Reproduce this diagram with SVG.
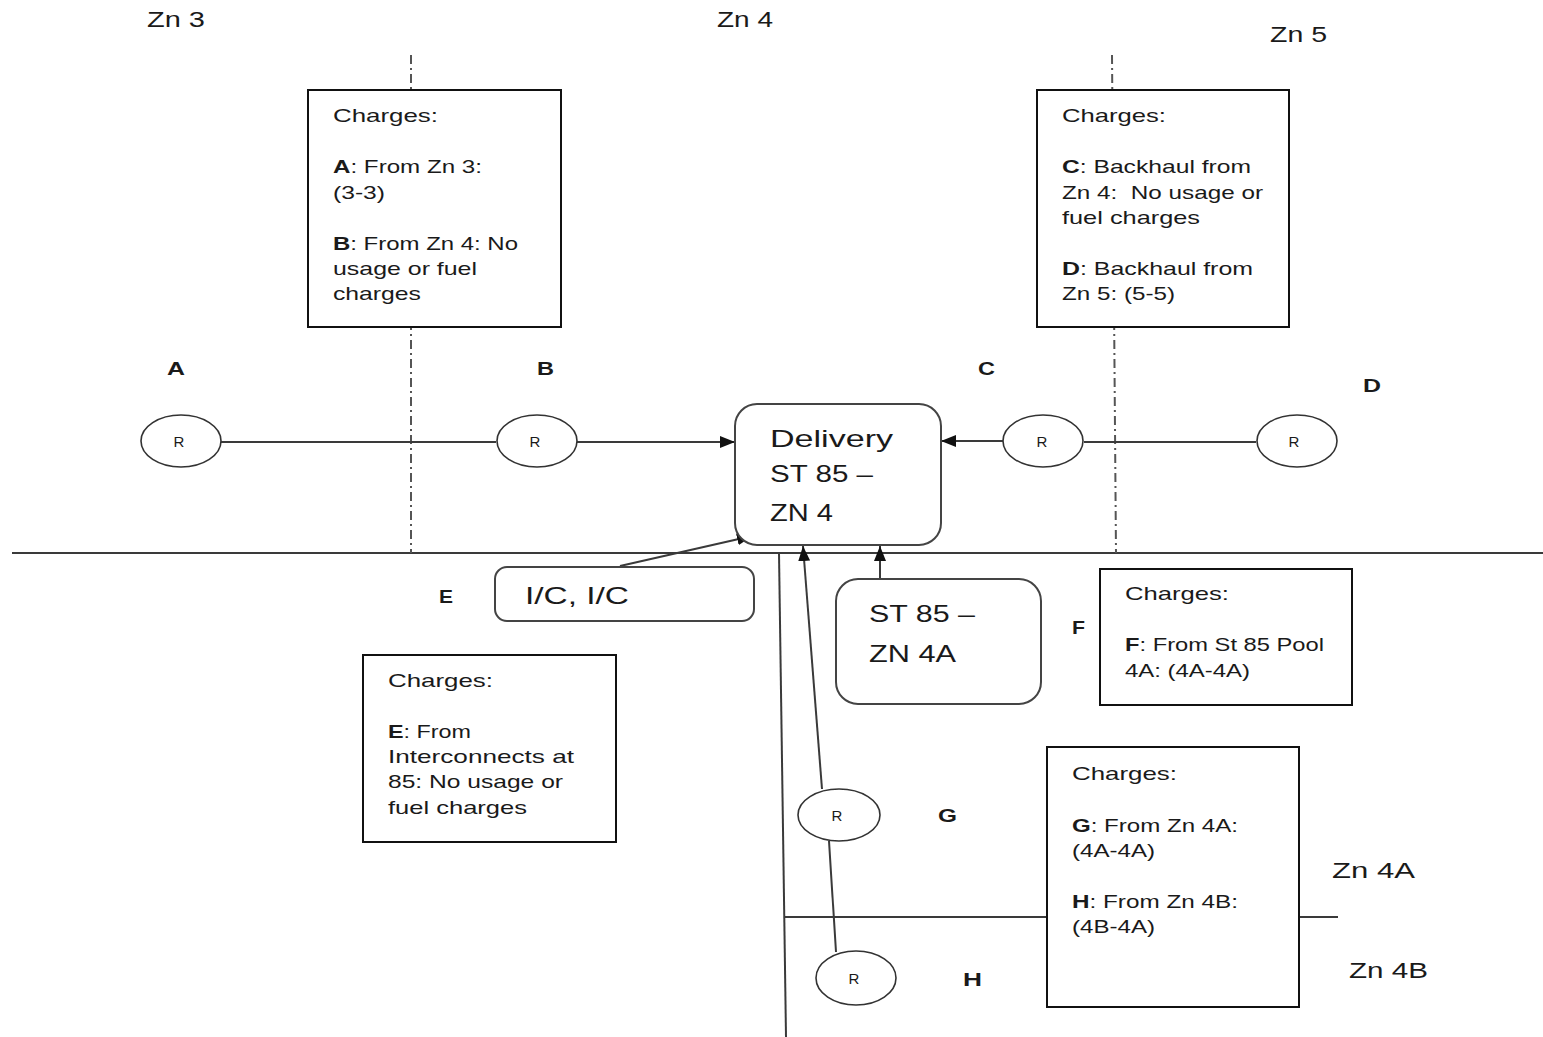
<svg xmlns="http://www.w3.org/2000/svg" width="1543" height="1037" viewBox="0 0 1543 1037">
<style>
text{font-family:"Liberation Sans",Arial,sans-serif;fill:#1a1a1a}
.t{font-size:19px}
.zn{font-size:22px}
.big{font-size:24px}
.lbl{font-size:19px;font-weight:bold}
.r{font-size:15px;text-anchor:middle}
.box{fill:#fff;stroke:#111;stroke-width:2}
.rbox{fill:#fff;stroke:#444;stroke-width:2}
.ell{fill:#fff;stroke:#333;stroke-width:1.6}
.ln{stroke:#3a3a3a;stroke-width:2;fill:none}
.dd{stroke:#555;stroke-width:2;stroke-dasharray:9 4 2 4;fill:none}
</style>
<defs>
<marker id="ah" markerWidth="15" markerHeight="12" refX="15" refY="6" orient="auto" markerUnits="userSpaceOnUse"><path d="M0,0 L15,6 L0,12 z" fill="#111"/></marker>
</defs>
<rect width="1543" height="1037" fill="#fff"/>
<g id="zones">
<line class="ln" x1="12" y1="553" x2="1543" y2="553" stroke="#555"/>
<line class="dd" x1="411" y1="55" x2="411" y2="553"/>
<line class="dd" x1="1112" y1="55" x2="1116" y2="553"/>
<line class="ln" x1="779" y1="553" x2="786" y2="1037"/>
<line class="ln" x1="785" y1="917" x2="925" y2="917" stroke="#777"/>
<line class="ln" x1="925" y1="917" x2="1047" y2="917" stroke="#111"/>
<line class="ln" x1="1299" y1="917" x2="1338" y2="917" stroke="#777"/>
<text class="zn" x="147" y="27" textLength="58" lengthAdjust="spacingAndGlyphs">Zn 3</text>
<text class="zn" x="717" y="27" textLength="56" lengthAdjust="spacingAndGlyphs">Zn 4</text>
<text class="zn" x="1270" y="42" textLength="57" lengthAdjust="spacingAndGlyphs">Zn 5</text>
<text class="zn" x="1332" y="878" textLength="83" lengthAdjust="spacingAndGlyphs">Zn 4A</text>
<text class="zn" x="1349" y="978" textLength="79" lengthAdjust="spacingAndGlyphs">Zn 4B</text>
</g>
<g id="connectors">
<line class="ln" x1="221" y1="442" x2="496" y2="442"/>
<line class="ln" x1="577" y1="442" x2="735" y2="442" marker-end="url(#ah)"/>
<line class="ln" x1="1084" y1="442" x2="1256" y2="442"/>
<line class="ln" x1="1003" y1="441" x2="941" y2="441" marker-end="url(#ah)"/>
<line class="ln" x1="620" y1="566" x2="752" y2="536" marker-end="url(#ah)"/>
<line class="ln" x1="822" y1="789" x2="803" y2="546" marker-end="url(#ah)"/>
<line class="ln" x1="829" y1="841" x2="836" y2="952"/>
<line class="ln" x1="880" y1="579" x2="880" y2="546" marker-end="url(#ah)"/>
</g>
<g id="box-ab">
<rect class="box" x="308" y="90" width="253" height="237"/>
<text class="t" x="333" y="122" textLength="105" lengthAdjust="spacingAndGlyphs">Charges:</text>
<text class="t" x="333" y="173" textLength="149" lengthAdjust="spacingAndGlyphs"><tspan font-weight="bold">A</tspan>: From Zn 3:</text>
<text class="t" x="333" y="199" textLength="52" lengthAdjust="spacingAndGlyphs">(3-3)</text>
<text class="t" x="333" y="250" textLength="185" lengthAdjust="spacingAndGlyphs"><tspan font-weight="bold">B</tspan>: From Zn 4: No</text>
<text class="t" x="333" y="275" textLength="144" lengthAdjust="spacingAndGlyphs">usage or fuel</text>
<text class="t" x="333" y="300" textLength="88" lengthAdjust="spacingAndGlyphs">charges</text>
</g>
<g id="box-cd">
<rect class="box" x="1037" y="90" width="252" height="237"/>
<text class="t" x="1062" y="122" textLength="104" lengthAdjust="spacingAndGlyphs">Charges:</text>
<text class="t" x="1062" y="173" textLength="189" lengthAdjust="spacingAndGlyphs"><tspan font-weight="bold">C</tspan>: Backhaul from</text>
<text class="t" x="1062" y="199" textLength="201" lengthAdjust="spacingAndGlyphs" xml:space="preserve">Zn 4:  No usage or</text>
<text class="t" x="1062" y="224" textLength="138" lengthAdjust="spacingAndGlyphs">fuel charges</text>
<text class="t" x="1062" y="275" textLength="191" lengthAdjust="spacingAndGlyphs"><tspan font-weight="bold">D</tspan>: Backhaul from</text>
<text class="t" x="1062" y="300" textLength="113" lengthAdjust="spacingAndGlyphs">Zn 5: (5-5)</text>
</g>
<g id="node-A">
<ellipse class="ell" cx="181" cy="441" rx="40" ry="26"/>
<text class="r" x="179" y="447">R</text>
<text class="lbl" x="167" y="375" textLength="18" lengthAdjust="spacingAndGlyphs">A</text>
</g>
<g id="node-B">
<ellipse class="ell" cx="537" cy="441" rx="40" ry="26"/>
<text class="r" x="535" y="447">R</text>
<text class="lbl" x="537" y="375" textLength="17" lengthAdjust="spacingAndGlyphs">B</text>
</g>
<g id="node-C">
<ellipse class="ell" cx="1043" cy="441" rx="40" ry="26"/>
<text class="r" x="1042" y="447">R</text>
<text class="lbl" x="978" y="375" textLength="17" lengthAdjust="spacingAndGlyphs">C</text>
</g>
<g id="node-D">
<ellipse class="ell" cx="1297" cy="441" rx="40" ry="26"/>
<text class="r" x="1294" y="447">R</text>
<text class="lbl" x="1363" y="392" textLength="18" lengthAdjust="spacingAndGlyphs">D</text>
</g>
<g id="node-delivery">
<rect class="rbox" x="735" y="404" width="206" height="141" rx="22"/>
<text class="big" x="770" y="447" textLength="123" lengthAdjust="spacingAndGlyphs">Delivery</text>
<text class="big" x="770" y="482" textLength="103" lengthAdjust="spacingAndGlyphs">ST 85 –</text>
<text class="big" x="770" y="521" textLength="63" lengthAdjust="spacingAndGlyphs">ZN 4</text>
</g>
<g id="node-E">
<rect class="rbox" x="495" y="567" width="259" height="54" rx="12"/>
<text class="big" x="525" y="604" textLength="104" lengthAdjust="spacingAndGlyphs">I/C, I/C</text>
<text class="lbl" x="439" y="603" textLength="14" lengthAdjust="spacingAndGlyphs">E</text>
</g>
<g id="box-e">
<rect class="box" x="363" y="655" width="253" height="187"/>
<text class="t" x="388" y="687" textLength="105" lengthAdjust="spacingAndGlyphs">Charges:</text>
<text class="t" x="388" y="738" textLength="83" lengthAdjust="spacingAndGlyphs"><tspan font-weight="bold">E</tspan>: From</text>
<text class="t" x="388" y="763" textLength="186" lengthAdjust="spacingAndGlyphs">Interconnects at</text>
<text class="t" x="388" y="788" textLength="175" lengthAdjust="spacingAndGlyphs">85: No usage or</text>
<text class="t" x="388" y="814" textLength="139" lengthAdjust="spacingAndGlyphs">fuel charges</text>
</g>
<g id="node-4A">
<rect class="rbox" x="836" y="579" width="205" height="125" rx="22"/>
<text class="big" x="869" y="622" textLength="106" lengthAdjust="spacingAndGlyphs">ST 85 –</text>
<text class="big" x="869" y="662" textLength="87" lengthAdjust="spacingAndGlyphs">ZN 4A</text>
<text class="lbl" x="1072" y="634" textLength="13" lengthAdjust="spacingAndGlyphs">F</text>
</g>
<g id="box-f">
<rect class="box" x="1100" y="569" width="252" height="136"/>
<text class="t" x="1125" y="600" textLength="104" lengthAdjust="spacingAndGlyphs">Charges:</text>
<text class="t" x="1125" y="651" textLength="199" lengthAdjust="spacingAndGlyphs"><tspan font-weight="bold">F</tspan>: From St 85 Pool</text>
<text class="t" x="1125" y="677" textLength="125" lengthAdjust="spacingAndGlyphs">4A: (4A-4A)</text>
</g>
<g id="node-G">
<ellipse class="ell" cx="839" cy="815" rx="41" ry="26"/>
<text class="r" x="837" y="821">R</text>
<text class="lbl" x="938" y="822" textLength="19" lengthAdjust="spacingAndGlyphs">G</text>
</g>
<g id="node-H">
<ellipse class="ell" cx="856" cy="978" rx="40" ry="27"/>
<text class="r" x="854" y="984">R</text>
<text class="lbl" x="963" y="986" textLength="19" lengthAdjust="spacingAndGlyphs">H</text>
</g>
<g id="box-gh">
<rect class="box" x="1047" y="747" width="252" height="260"/>
<text class="t" x="1072" y="780" textLength="105" lengthAdjust="spacingAndGlyphs">Charges:</text>
<text class="t" x="1072" y="832" textLength="166" lengthAdjust="spacingAndGlyphs"><tspan font-weight="bold">G</tspan>: From Zn 4A:</text>
<text class="t" x="1072" y="857" textLength="83" lengthAdjust="spacingAndGlyphs">(4A-4A)</text>
<text class="t" x="1072" y="908" textLength="166" lengthAdjust="spacingAndGlyphs"><tspan font-weight="bold">H</tspan>: From Zn 4B:</text>
<text class="t" x="1072" y="933" textLength="83" lengthAdjust="spacingAndGlyphs">(4B-4A)</text>
</g>
</svg>
